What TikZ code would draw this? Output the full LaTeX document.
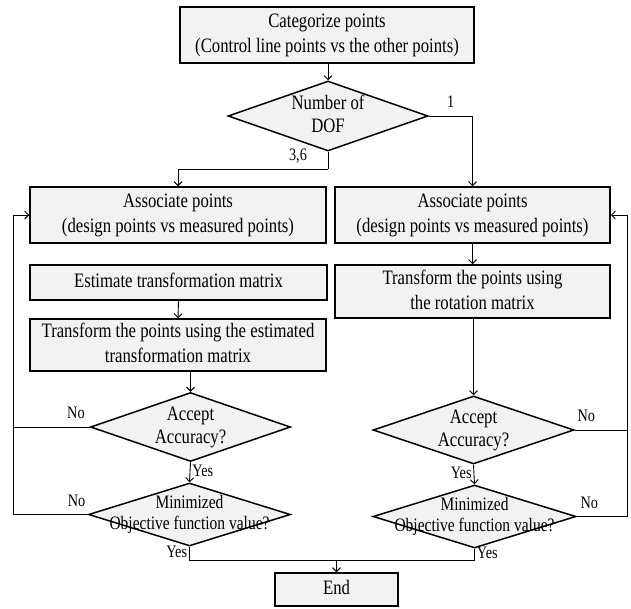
\documentclass[tikz,border=0pt]{standalone}
\usepackage{fontspec}
\setmainfont{Liberation Serif}
\usepackage{graphicx}
\usetikzlibrary{arrows.meta,shapes.geometric}
\definecolor{boxfill}{HTML}{F2F2F2}
\newcommand{\sq}[1]{\scalebox{0.815}[1]{\begin{tabular}{@{}c@{}}#1\end{tabular}}}
\tikzset{
  base/.style={draw=black, fill=boxfill, line width=1.5pt, inner sep=0pt},
  box/.style={base, rectangle},
  dia/.style={base, diamond, minimum width=200pt, minimum height=70pt},
  ln/.style={line width=0.9pt},
  arr/.style={line width=0.9pt, -{Straight Barb[length=4pt,width=8pt]}},
  lbl/.style={font=\fontsize{17.5}{20}\selectfont, inner sep=2pt},
  dtxt/.style={font=\fontsize{20.5}{23}\selectfont, inner sep=0pt},
  mtxt/.style={font=\fontsize{19}{21}\selectfont, inner sep=0pt}
}
\begin{document}
\begin{tikzpicture}[x=1pt,y=-1pt,font=\fontsize{20.5}{25}\selectfont]
\useasboundingbox (0,0) rectangle (631,608);
% boxes
\node[box, minimum width=294pt, minimum height=56pt] (cat) at (327,35)
  {\sq{Categorize points\\(Control line points vs the other points)}};
\node[dia, label={[dtxt]center:\sq{Number of\\DOF}}] (dof) at (328,116) {};
\node[box, minimum width=296pt, minimum height=56pt] (assocL) at (178,215)
  {\sq{Associate points\\(design points vs measured points)}};
\node[box, minimum width=275pt, minimum height=56pt] (assocR) at (472.5,215)
  {\sq{Associate points\\(design points vs measured points)}};
\node[box, minimum width=297pt, minimum height=35pt] (est) at (178.5,282.5)
  {\sq{Estimate transformation matrix}};
\node[box, minimum width=296pt, minimum height=52pt] (transL) at (178,345)
  {\sq{Transform the points using the estimated\\transformation matrix}};
\node[box, minimum width=275pt, minimum height=53pt] (transR) at (472.5,291.5)
  {\sq{Transform the points using\\the rotation matrix}};
\node[dia, minimum height=69pt, label={[dtxt]center:\sq{Accept\\Accuracy?}}] (accL) at (190.5,427) {};
\node[dia, minimum width=202pt, minimum height=63pt, label={[mtxt]center:\sq{Minimized\\Objective function value?}}] (minL) at (189.5,514.5) {};
\node[dia, minimum width=201pt, minimum height=68pt, label={[dtxt]center:\sq{Accept\\Accuracy?}}] (accR) at (473.5,430) {};
\node[dia, minimum width=203pt, minimum height=63pt, label={[mtxt]center:\sq{Minimized\\Objective function value?}}] (minR) at (474.5,516.5) {};
\node[box, minimum width=123pt, minimum height=33pt] (endn) at (336.5,589.5) {\sq{End}};
% helper coordinates
\coordinate (split) at (328,169);
\coordinate (fbL) at (13,215);
\coordinate (fbR) at (627,215);
\coordinate (merge) at (336.5,560);
% connectors
\draw[arr] (cat.south -| dof.north) -- (dof.north);
\draw[arr] (dof.east) -- node[lbl, above, pos=0.5]{\sq{1}} (dof.east -| assocR.north) -- (assocR.north);
\draw[ln] (dof.south) -- (split);
\draw[arr] (split) -- node[lbl, above, pos=0.2]{\sq{3,6}} (split -| assocL.north) -- (assocL.north);
\draw[arr] (est.south) -- (transL.north);
\draw[arr] (assocR.south) -- (transR.north);
\draw[arr] (accL.north |- transL.south) -- (accL.north);
\draw[arr] (accL.south) -- node[lbl, right, pos=0.5]{\sq{Yes}} (minL.north);
\draw[arr] (transR.south -| accR.north) -- (accR.north);
\draw[arr] (accR.south) -- node[lbl, left, pos=0.5]{\sq{Yes}} (minR.north);
% left feedback
\draw[ln] (accL.west) -- node[lbl, above, pos=0.18]{\sq{No}} (accL.west -| fbL);
\draw[arr] (minL.west) -- node[lbl, above, pos=0.15]{\sq{No}} (minL.west -| fbL) -- (fbL) -- (assocL.west);
% right feedback
\draw[ln] (accR.east) -- node[lbl, above, pos=0.22]{\sq{No}} (accR.east -| fbR);
\draw[arr] (minR.east) -- node[lbl, above, pos=0.25]{\sq{No}} (minR.east -| fbR) -- (fbR) -- (assocR.east);
% to end
\draw[ln] (minL.south) -- node[lbl, left, pos=0.5]{\sq{Yes}} (minL.south |- merge) -- (merge);
\draw[ln] (minR.south) -- node[lbl, right, pos=0.5]{\sq{Yes}} (minR.south |- merge) -- (merge);
\draw[arr] (merge) -- (endn.north);
\end{tikzpicture}
\end{document}
